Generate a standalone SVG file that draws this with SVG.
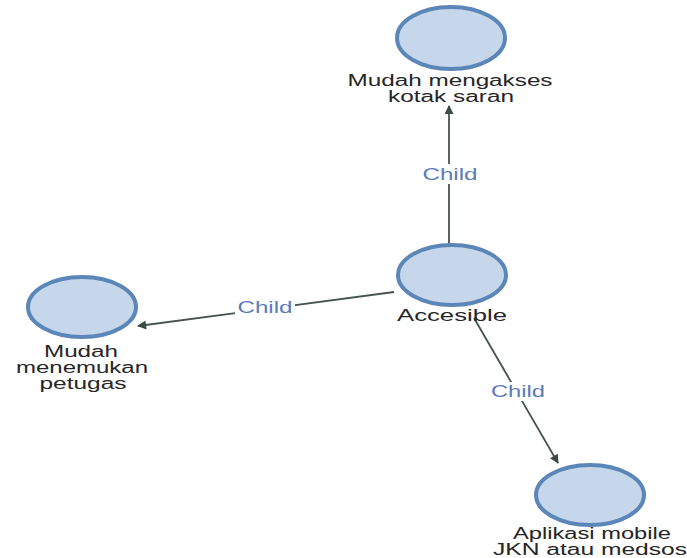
<svg xmlns="http://www.w3.org/2000/svg" width="687" height="558" viewBox="0 0 687 558">
  <style>
    .node ellipse { fill: #c6d6eb; stroke: #5b86b8; stroke-width: 4; }
    .node text { font-family: "Liberation Sans", Arial, sans-serif; font-size: 16px; fill: #262626; text-anchor: middle; }
    .edge line { stroke: #44544f; stroke-width: 1.8; }
    .elabel { font-family: "Liberation Sans", Arial, sans-serif; font-size: 16px; fill: #5a7bb8; text-anchor: middle; }
    .lbg { fill: #ffffff; }
  </style>
  <defs>
    <marker id="arrow" viewBox="0 0 10 10" refX="9" refY="5" markerWidth="10" markerHeight="9" orient="auto" markerUnits="userSpaceOnUse">
      <path d="M0,0 L10,5 L0,10 z" fill="#3a4a45"/>
    </marker>
  </defs>
  <rect width="687" height="558" fill="#ffffff"/>

  <g id="connectors">
    <g class="edge">
      <line x1="449" y1="245" x2="449" y2="106" marker-end="url(#arrow)"/>
      <rect class="lbg" x="420" y="164" width="60" height="20"/>
      <text class="elabel" x="450" y="180" textLength="55" lengthAdjust="spacingAndGlyphs">Child</text>
    </g>
    <g class="edge">
      <line x1="394" y1="292" x2="138" y2="326" marker-end="url(#arrow)"/>
      <rect class="lbg" x="235" y="298" width="60" height="19"/>
      <text class="elabel" x="265" y="313" textLength="55" lengthAdjust="spacingAndGlyphs">Child</text>
    </g>
    <g class="edge">
      <line x1="474" y1="318" x2="558" y2="463" marker-end="url(#arrow)"/>
      <rect class="lbg" x="488" y="382" width="60" height="19"/>
      <text class="elabel" x="518" y="397" textLength="54" lengthAdjust="spacingAndGlyphs">Child</text>
    </g>
  </g>

  <g id="node-kotak-saran" class="node">
    <ellipse cx="451" cy="38" rx="54" ry="31"/>
    <text x="450" y="86" textLength="205" lengthAdjust="spacingAndGlyphs">Mudah mengakses</text>
    <text x="451" y="102" textLength="126" lengthAdjust="spacingAndGlyphs">kotak saran</text>
  </g>

  <g id="node-accesible" class="node">
    <ellipse cx="452" cy="275" rx="54" ry="30"/>
    <text x="452" y="321" textLength="110" lengthAdjust="spacingAndGlyphs">Accesible</text>
  </g>

  <g id="node-petugas" class="node">
    <ellipse cx="82" cy="307" rx="54" ry="30"/>
    <text x="81" y="357" textLength="74" lengthAdjust="spacingAndGlyphs">Mudah</text>
    <text x="82" y="373" textLength="132" lengthAdjust="spacingAndGlyphs">menemukan</text>
    <text x="83" y="389" textLength="87" lengthAdjust="spacingAndGlyphs">petugas</text>
  </g>

  <g id="node-aplikasi" class="node">
    <ellipse cx="590" cy="495" rx="54" ry="30"/>
    <text x="592" y="539" textLength="158" lengthAdjust="spacingAndGlyphs">Aplikasi mobile</text>
    <text x="590" y="555" textLength="194" lengthAdjust="spacingAndGlyphs">JKN atau medsos</text>
  </g>
</svg>
